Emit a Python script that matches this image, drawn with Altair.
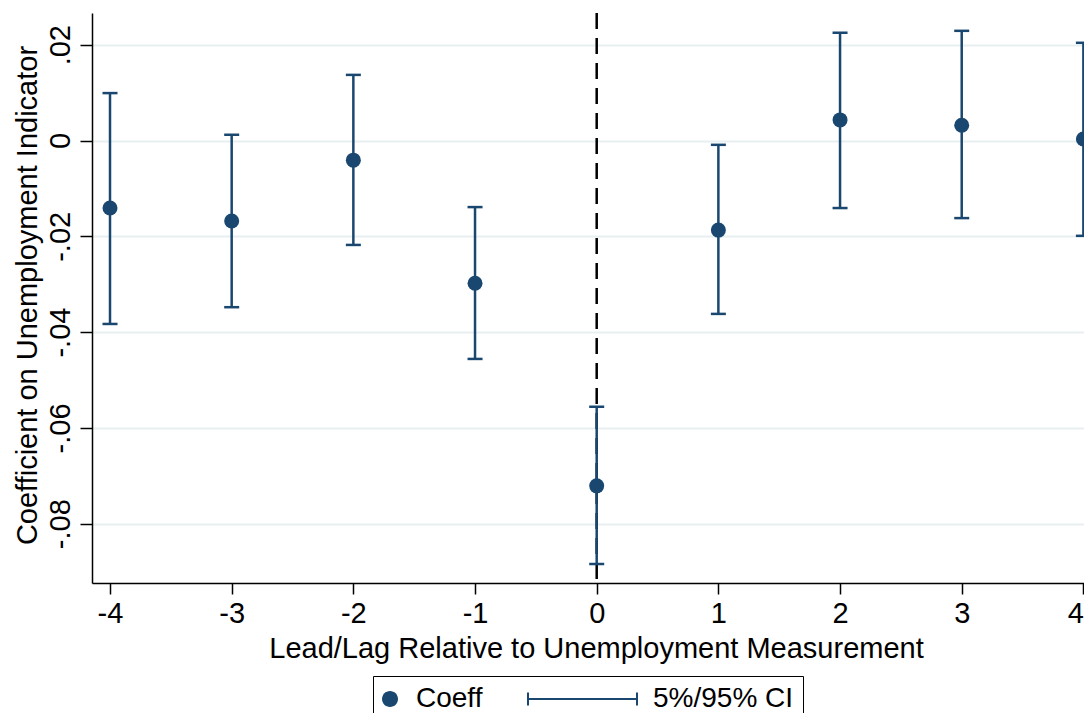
import altair as alt
import pandas as pd

# ---- data ----
leads = [-4, -3, -2, -1, 0, 1, 2, 3, 4]
coef = [-0.0141, -0.0168, -0.0041, -0.0298, -0.0721, -0.0187, 0.0043, 0.0032, 0.0003]
ci_low = [-0.0383, -0.0348, -0.0218, -0.0456, -0.0884, -0.0362, -0.0141, -0.0162, -0.0199]
ci_high = [0.0099, 0.0012, 0.0137, -0.0139, -0.0556, -0.0009, 0.0225, 0.0229, 0.0204]
series = ["Coeff"] * len(leads)
legend_labels = ["Coeff", "5%/95% CI"]
x_ticks = [-4, -3, -2, -1, 0, 1, 2, 3, 4]
y_ticks = [-0.08, -0.06, -0.04, -0.02, 0, 0.02]
event_line = [0]

navy = "#1a476f"
FONT = "Liberation Sans"

df = pd.DataFrame({"lead": leads, "coef": coef, "lo": ci_low, "hi": ci_high, "series": series})
vdf = pd.DataFrame({"lead": event_line})

x_scale = alt.Scale(domain=[-4.148, 4.005], nice=False, zero=False)
y_scale = alt.Scale(domain=[-0.09238, 0.02662], nice=False, zero=False)

x_axis = alt.Axis(
    values=x_ticks, grid=False, tickSize=11, labelPadding=5,
    labelExpr="(datum.value < 0 ? '-' : '') + abs(datum.value)",
    title="Lead/Lag Relative to Unemployment Measurement",
    titleX=504, titleY=74, titleBaseline="alphabetic", titleAlign="center",
)
y_axis = alt.Axis(
    values=y_ticks, grid=True, tickSize=12, labelPadding=11,
    labelAngle=270, labelAlign="center", labelBaseline="alphabetic",
    labelExpr="datum.value == 0 ? '0' : (datum.value < 0 ? '-' : '') + replace(format(abs(datum.value), '.2f'), '0.', '.')",
    title="Coefficient on Unemployment Indicator",
    titleAngle=270, titleX=-56, titleY=282, titleBaseline="alphabetic", titleAlign="center",
)

X = alt.X("lead:Q", scale=x_scale, axis=x_axis)

def Y(field):
    return alt.Y(field, type="quantitative", scale=y_scale, axis=y_axis)

base = alt.Chart(df)

vline = alt.Chart(vdf).mark_rule(color="black", strokeWidth=2.5, strokeDash=[16, 9]).encode(x=X)

ci = base.mark_rule(color=navy, strokeWidth=2.5).encode(x=X, y=Y("lo"), y2="hi:Q")
cap_lo = base.mark_tick(orient="horizontal", size=15, thickness=2.5, color=navy, opacity=1).encode(x=X, y=Y("lo"))
cap_hi = base.mark_tick(orient="horizontal", size=15, thickness=2.5, color=navy, opacity=1).encode(x=X, y=Y("hi"))

points = base.mark_point(filled=True, size=225, opacity=1, color=navy).encode(x=X, y=Y("coef"))

# legend symbols as filled outlines (unit = 6.5 px)
circle_path = "M-2.154,0A1.231,1.231,0,1,0,0.308,0A1.231,1.231,0,1,0,-2.154,0Z"
errbar_path = (
    "M-16.31,-1L-16,-1L-16,1L-16.31,1Z"
    "M-16,-0.154L0.462,-0.154L0.462,0.154L-16,0.154Z"
    "M0.462,-1L0.769,-1L0.769,1L0.462,1Z"
)

legend_layer = base.mark_point(filled=True, color=navy, opacity=0).encode(
    x=X,
    y=Y("coef"),
    shape=alt.Shape(
        "series:N",
        scale=alt.Scale(domain=legend_labels, range=[circle_path, errbar_path]),
        legend=alt.Legend(
            title=None, orient="none", legendX=281, legendY=663, direction="horizontal",
            columns=2, gridAlign="none",
            columnPadding=43, padding=9, strokeColor="black", fillColor="white",
            labelFont=FONT, labelFontSize=28, labelColor="black", labelOffset=6,
            symbolSize=169, symbolStrokeWidth=0, symbolFillColor=navy,
            symbolOpacity=1, labelLimit=300,
        ),
    ),
)

chart = (
    alt.layer(vline, ci, cap_lo, cap_hi, points, legend_layer)
    .properties(
        width=992, height=570,
        autosize=alt.AutoSizeParams(type="none"),
        padding={"left": 84, "top": 5, "right": 0, "bottom": 130},
        background="white",
    )
    .configure_view(stroke=None)
    .configure_axis(
        labelFont=FONT, labelFontSize=29, labelColor="black",
        titleFont=FONT, titleFontSize=29, titleColor="black", titleFontWeight="normal",
        domainColor="black", domainWidth=1.5, tickColor="black", tickWidth=1.5,
        gridColor="#e8eff1", gridWidth=2,
    )
)

chart.save("out.html", embed_options={"renderer": "svg", "actions": False})
